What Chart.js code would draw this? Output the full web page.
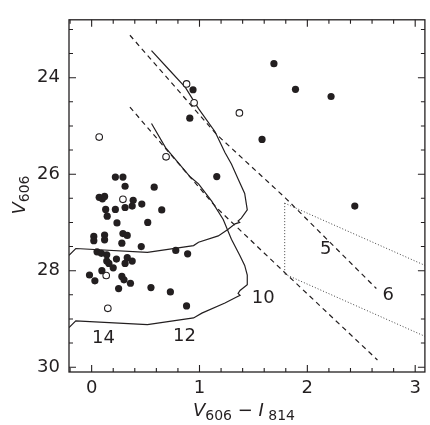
<!DOCTYPE html>
<html>
<head>
<meta charset="utf-8">
<script src="https://cdn.jsdelivr.net/npm/chart.js@4.4.1/dist/chart.umd.min.js"></script>
<style>
  html, body { margin: 0; padding: 0; background: #fff; }
  #wrap { width: 430px; height: 425px; }
</style>
</head>
<body>
<div id="wrap"><canvas id="cmd"></canvas></div>
<script>
// filled symbols (colour V606-I814, magnitude V606)
const filledColor = [1.69, 1.89, 2.22, 1.58, 2.44, 1.16, 0.94, 0.91, 0.22, 0.29, 0.31, 0.58, 0.07, 0.10, 0.12,
  0.385, 0.465, 0.376, 0.31, 0.22, 0.13, 0.65, 0.144, 0.235, 0.52, 0.02, 0.02, 0.12, 0.12, 0.29, 0.33, 0.28,
  0.46, 0.05, 0.09, 0.14, 0.23, 0.14, 0.16, 0.20, 0.33, 0.376, 0.31, -0.02, 0.03, 0.095, 0.28, 0.30, 0.36,
  0.25, 0.55, 0.73, 0.88, 0.78, 0.89];
const filledMag = [23.71, 24.24, 24.39, 25.28, 26.66, 26.05, 24.25, 24.84, 26.06, 26.06, 26.25, 26.27, 26.48, 26.51, 26.46,
  26.54, 26.62, 26.66, 26.69, 26.73, 26.73, 26.74, 26.87, 27.01, 27.00, 27.29, 27.38, 27.26, 27.36, 27.23, 27.27, 27.43,
  27.50, 27.61, 27.64, 27.67, 27.76, 27.80, 27.85, 27.94, 27.73, 27.80, 27.85, 28.09, 28.21, 28.00, 28.12, 28.19, 28.26,
  28.37, 28.35, 28.44, 28.73, 27.58, 27.65];

// open symbols
const openColor = [0.88, 0.95, 1.37, 0.07, 0.69, 0.29, 0.135, 0.15];
const openMag = [24.13, 24.52, 24.73, 25.23, 25.64, 26.52, 28.10, 28.78];

// solid curves
const upperCurveColor = [0.555, 0.716, 0.869, 0.991, 1.144, 1.236, 1.296, 1.358, 1.419, 1.443, 1.388, 1.358, 1.372,
  1.33, 1.266, 1.174, 0.991, 0.945, 0.517, -0.147, -0.21];
const upperCurveMag = [23.44, 23.83, 24.20, 24.64, 25.12, 25.55, 25.79, 26.10, 26.40, 26.74, 26.91, 26.97, 27.00,
  27.03, 27.14, 27.28, 27.41, 27.48, 27.62, 27.54, 27.68];
const lowerCurveColor = [0.555, 0.685, 0.915, 0.991, 1.113, 1.22, 1.296, 1.373, 1.419, 1.443, 1.443, 1.376, 1.358,
  1.376, 1.34, 1.236, 1.022, 0.945, 0.517, -0.147, -0.21];
const lowerCurveMag = [24.95, 25.45, 26.06, 26.20, 26.56, 26.94, 27.35, 27.68, 27.89, 28.09, 28.29, 28.41, 28.47,
  28.51, 28.55, 28.67, 28.88, 28.98, 29.12, 29.04, 29.18];

// dashed lines
const dashUpperColor = [0.355, 1.16, 1.80, 2.64];
const dashUpperMag = [23.12, 25.18, 26.50, 28.37];
const dashLowerColor = [0.355, 1.16, 1.80, 2.65];
const dashLowerMag = [24.61, 26.70, 28.06, 29.85];

// dotted lines
const dotTopColor = [1.79, 3.09];
const dotTopMag = [26.60, 27.89];
const dotBottomColor = [1.79, 3.09];
const dotBottomMag = [28.07, 29.36];
const dotSideColor = [1.79, 1.79];
const dotSideMag = [26.60, 28.07];

// curve labels
const labelText = ['14', '12', '10', '5', '6'];
const labelColor = [0.11, 0.86, 1.59, 2.17, 2.75];
const labelMag = [29.41, 29.36, 28.58, 27.56, 28.51];

const xTicks = [0, 1, 2, 3];
const yTicks = [24, 26, 28, 30];

const ink = '#231f20';
const font = 'DejaVu Sans';

const pts = (xs, ys) => xs.map((x, i) => ({ x: x, y: ys[i] }));

const lineSet = (xs, ys, dash, width, color) => ({
  data: pts(xs, ys),
  showLine: true,
  fill: false,
  tension: 0,
  pointRadius: 0,
  borderColor: color || ink,
  borderWidth: width || 1.2,
  borderDash: dash || [],
  order: 2
});

// frame, inward ticks, labels and axis titles
const decor = {
  id: 'decor',
  afterDraw(chart) {
    const { ctx, chartArea: a, scales: { x, y } } = chart;
    ctx.save();
    ctx.strokeStyle = ink;
    ctx.lineWidth = 1.3;
    ctx.strokeRect(a.left, a.top, a.right - a.left, a.bottom - a.top);

    ctx.lineWidth = 1.1;
    ctx.beginPath();
    for (let i = -1; i <= 15; i++) {
      const px = x.getPixelForValue(i * 0.2);
      if (px < a.left || px > a.right) continue;
      const len = i % 5 === 0 ? 7 : 4;
      ctx.moveTo(px, a.bottom); ctx.lineTo(px, a.bottom - len);
      ctx.moveTo(px, a.top); ctx.lineTo(px, a.top + len);
    }
    for (let i = 46; i <= 60; i++) {
      const py = y.getPixelForValue(i / 2);
      if (py < a.top || py > a.bottom) continue;
      const len = i % 4 === 0 ? 7 : 4;
      ctx.moveTo(a.left, py); ctx.lineTo(a.left + len, py);
      ctx.moveTo(a.right, py); ctx.lineTo(a.right - len, py);
    }
    ctx.stroke();

    ctx.fillStyle = ink;
    ctx.textAlign = 'center';
    ctx.textBaseline = 'middle';
    ctx.font = '18px "' + font + '"';
    labelText.forEach((t, i) => {
      ctx.fillText(t, x.getPixelForValue(labelColor[i]), y.getPixelForValue(labelMag[i]));
    });

    // x title: V606 − I814
    const big = '18px "' + font + '"';
    const bigIt = 'oblique 18px "' + font + '"';
    const sub = '14px "' + font + '"';
    const parts = [
      ['V', bigIt, 0], ['606', sub, 4], [' \u2212 ', big, 0], ['I', bigIt, 0], [' 814', sub, 4]
    ];
    ctx.textAlign = 'left';
    ctx.textBaseline = 'alphabetic';
    let w = 0;
    parts.forEach(p => { ctx.font = p[1]; w += ctx.measureText(p[0]).width; });
    let cx = 244 - w / 2;
    parts.forEach(p => {
      ctx.font = p[1];
      ctx.fillText(p[0], cx, 416 + p[2]);
      cx += ctx.measureText(p[0]).width;
    });

    // y title: V606
    ctx.translate(25, 195);
    ctx.rotate(-Math.PI / 2);
    const yparts = [['V', bigIt, 0], ['606', sub, 4]];
    w = 0;
    yparts.forEach(p => { ctx.font = p[1]; w += ctx.measureText(p[0]).width; });
    cx = -w / 2;
    yparts.forEach(p => {
      ctx.font = p[1];
      ctx.fillText(p[0], cx, p[2]);
      cx += ctx.measureText(p[0]).width;
    });
    ctx.restore();
  }
};

new Chart(document.getElementById('cmd'), {
  type: 'scatter',
  data: {
    datasets: [
      {
        data: pts(filledColor, filledMag),
        pointRadius: 3.6,
        pointBackgroundColor: ink,
        pointBorderWidth: 0,
        order: 0
      },
      {
        data: pts(openColor, openMag),
        pointRadius: 3.3,
        pointBackgroundColor: '#fff',
        pointBorderColor: ink,
        pointBorderWidth: 1.1,
        order: 0
      },
      lineSet(upperCurveColor, upperCurveMag),
      lineSet(lowerCurveColor, lowerCurveMag),
      lineSet(dashUpperColor, dashUpperMag, [5, 4]),
      lineSet(dashLowerColor, dashLowerMag, [5, 4]),
      lineSet(dotTopColor, dotTopMag, [1, 2], 1, '#444'),
      lineSet(dotBottomColor, dotBottomMag, [1, 2], 1, '#444'),
      lineSet(dotSideColor, dotSideMag, [1, 2], 1, '#444')
    ]
  },
  options: {
    responsive: true,
    maintainAspectRatio: false,
    animation: false,
    layout: { padding: { top: 13, right: 2, left: 0, bottom: 0 } },
    plugins: { legend: { display: false }, tooltip: { enabled: false } },
    scales: {
      x: {
        type: 'linear',
        min: -0.21,
        max: 3.09,
        grid: { display: false, drawTicks: false },
        border: { display: false },
        afterBuildTicks: s => { s.ticks = xTicks.map(v => ({ value: v })); },
        afterFit: s => { s.height = 53; },
        ticks: { color: ink, font: { family: font, size: 18 }, padding: 6, maxRotation: 0 }
      },
      y: {
        type: 'linear',
        reverse: true,
        min: 22.8,
        max: 30.1,
        grid: { display: false, drawTicks: false },
        border: { display: false },
        afterBuildTicks: s => { s.ticks = yTicks.map(v => ({ value: v })); },
        afterFit: s => { s.width = 69; },
        ticks: { color: ink, font: { family: font, size: 18 }, padding: 9 }
      }
    }
  },
  plugins: [decor]
});
</script>
</body>
</html>
